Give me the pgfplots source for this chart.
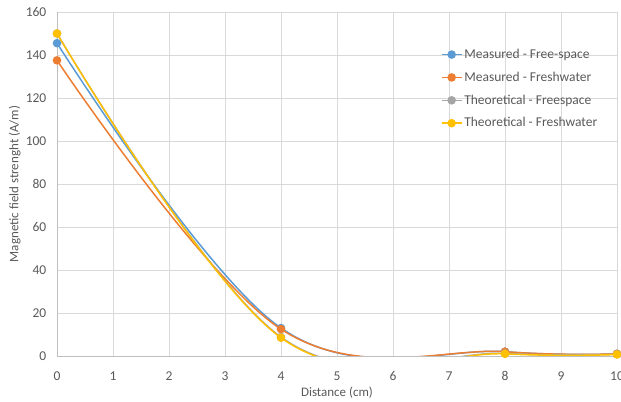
\documentclass[border=0pt]{standalone}
\usepackage{fontspec}
\setmainfont{Carlito}
\usepackage{pgfplots}
\pgfplotsset{compat=1.18}
\definecolor{cblue}{HTML}{5B9BD5}
\definecolor{corange}{HTML}{ED7D31}
\definecolor{cgray}{HTML}{A5A5A5}
\definecolor{cyellow}{HTML}{FFC000}
\definecolor{ctext}{HTML}{595959}
\definecolor{cgrid}{HTML}{D9D9D9}
\definecolor{caxis}{HTML}{BFBFBF}
\begin{document}
\begin{tikzpicture}
\fontsize{13.5bp}{16bp}\selectfont
\begin{axis}[
  scale only axis,
  width=560bp, height=344bp,
  xmin=0, xmax=10, ymin=0, ymax=160,
  xtick={0,...,10}, ytick={0,20,...,160},
  grid=major,
  major grid style={cgrid, line width=0.75bp},
  axis x line*=bottom, axis y line*=left,
  axis line style={caxis, line width=0.75bp, -},
  major tick length=0pt,
  tick label style={font=\fontsize{13.5bp}{16bp}\selectfont, text=ctext},
  /pgf/number format/assume math mode=true,
  xticklabel style={yshift=-11bp},
  yticklabel style={xshift=-6bp},
  xlabel={Distance (cm)},
  ylabel={Magnetic field strenght (A/m)},
  xlabel style={font=\fontsize{13bp}{15bp}\selectfont, text=ctext, yshift=3bp},
  ylabel style={font=\fontsize{13bp}{15bp}\selectfont, text=ctext, yshift=-4bp},
  clip mode=individual,
  every axis plot/.append style={smooth, tension=0.62, line width=1.5bp, mark=*, mark size=3.5bp},
  legend cell align=left,
  legend style={at={(0.68,0.905)}, anchor=north west, draw=none, fill=none,
    font=\fontsize{13.5bp}{16bp}\selectfont, text=ctext, row sep=7.5bp},
  legend image code/.code={\draw[mark repeat=2,mark phase=2,line width=1.5bp] plot coordinates {(0cm,0cm)(0.35cm,0cm)(0.7cm,0cm)};},
]
\addplot[color=cblue, mark options={fill=cblue, draw=cblue}] coordinates {(0,145.5) (4,13) (8,2) (10,1)};
\addlegendentry{Measured - Free-space}
\addplot[color=corange, mark options={fill=corange, draw=corange}] coordinates {(0,137.5) (4,12.5) (8,2) (10,1)};
\addlegendentry{Measured - Freshwater}
\addplot[color=cgray, mark options={fill=cgray, draw=cgray}] coordinates {(0,150) (4,8.8) (8,1.2) (10,0.8)};
\addlegendentry{Theoretical - Freespace}
\addplot[color=cyellow, mark options={fill=cyellow, draw=cyellow}] coordinates {(0,150) (4,8.5) (8,1) (10,0.7)};
\addlegendentry{Theoretical - Freshwater}
\end{axis}
\pgfresetboundingbox
\path[use as bounding box] (-57bp,-46bp) rectangle (564bp,356bp);
\end{tikzpicture}
\end{document}
